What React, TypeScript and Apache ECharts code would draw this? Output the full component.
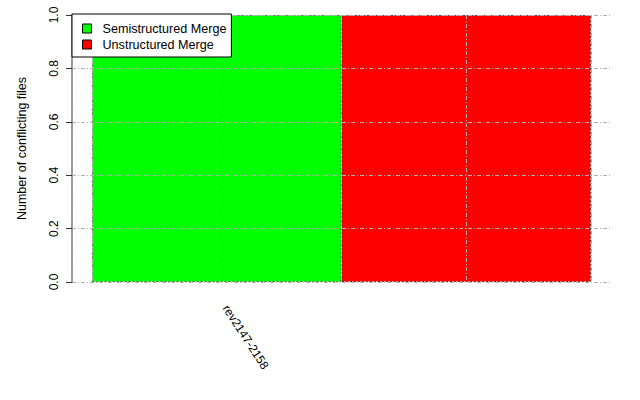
import React, { useEffect, useRef } from "react";
import * as echarts from "echarts";

const categories = ["rev2147-2158"];
const seriesNames = ["Semistructured Merge", "Unstructured Merge"];
const semistructuredValues = [1];
const unstructuredValues = [1];
const seriesColors = ["#00ff00", "#ff0000"];
const yAxisName = "Number of conflicting files";

const FONT = "'Liberation Sans', Arial, Helvetica, sans-serif";

export default function App() {
  const ref = useRef<HTMLDivElement>(null);
  useEffect(() => {
    if (!ref.current) return;
    const chart = echarts.init(ref.current, undefined, { renderer: "svg" });
    const gridLine = { type: [4, 2, 1, 2], color: "#b0b0b0", width: 1 };
    chart.setOption({
      animation: false,
      backgroundColor: "#ffffff",
      textStyle: { fontFamily: FONT },
      legend: {
        data: seriesNames,
        orient: "vertical",
        left: 72,
        top: 14,
        padding: [8, 5, 6, 10],
        itemGap: 3,
        itemWidth: 9,
        itemHeight: 9,
        icon: "rect",
        backgroundColor: "#ffffff",
        borderColor: "#000000",
        borderWidth: 1,
        borderRadius: 0,
        z: 20,
        itemStyle: { borderColor: "#000000", borderWidth: 1 },
        textStyle: { fontSize: 12.6, color: "#000000", fontFamily: FONT, padding: [0, 0, 0, 6] },
      },
      grid: [
        { left: 72, right: 30, top: 15, bottom: 118 },
        { left: 92, right: 49, top: 15, bottom: 118 },
      ],
      xAxis: [
        {
          type: "category",
          gridIndex: 1,
          data: categories,
          boundaryGap: true,
          axisLine: { show: false },
          axisTick: { show: false },
          axisLabel: { show: false },
          splitLine: { show: false },
        },
        {
          type: "value",
          gridIndex: 1,
          min: 0,
          max: 4,
          interval: 1,
          z: 10,
          axisLine: { show: false },
          axisTick: { show: false },
          axisLabel: { show: false },
          splitLine: { show: true, lineStyle: gridLine },
        },
        {
          type: "value",
          gridIndex: 0,
          min: 0,
          max: 1,
          show: false,
        },
      ],
      yAxis: [
        {
          type: "value",
          gridIndex: 0,
          min: 0,
          max: 1,
          interval: 0.2,
          z: 10,
          name: yAxisName,
          nameLocation: "middle",
          nameGap: 44,
          nameRotate: 90,
          nameTextStyle: { fontSize: 12.5, color: "#000000", fontFamily: FONT },
          axisLine: { show: true, lineStyle: { color: "#9a9a9a", width: 2 } },
          axisTick: { show: true, length: 6, lineStyle: { color: "#333333" } },
          axisLabel: {
            rotate: 90,
            margin: 12,
            fontSize: 12,
            color: "#000000",
            fontFamily: FONT,
            formatter: (v: number) => v.toFixed(1),
          },
          splitLine: { show: true, lineStyle: gridLine },
        },
        {
          type: "value",
          gridIndex: 1,
          min: 0,
          max: 1,
          show: false,
        },
      ],
      series: [
        {
          name: seriesNames[0],
          type: "bar",
          xAxisIndex: 0,
          yAxisIndex: 1,
          data: semistructuredValues,
          barWidth: "50%",
          barGap: "0%",
          itemStyle: { color: seriesColors[0], borderColor: "rgba(0,0,0,0.55)", borderWidth: 1, borderType: [2, 2] },
          label: {
            show: true,
            formatter: "{b}",
            position: ["53.5%", "109%"],
            rotate: -57,
            align: "left",
            verticalAlign: "middle",
            fontSize: 12,
            color: "#000000",
            fontFamily: FONT,
          },
        },
        {
          name: seriesNames[1],
          type: "bar",
          xAxisIndex: 0,
          yAxisIndex: 1,
          data: unstructuredValues,
          barWidth: "50%",
          barGap: "0%",
          itemStyle: { color: seriesColors[1], borderColor: "rgba(0,0,0,0.55)", borderWidth: 1, borderType: [2, 2] },
        },
      ],
    });
    return () => chart.dispose();
  }, []);
  return (
    <div
      ref={ref}
      style={{ position: "fixed", left: 0, top: 0, width: 640, height: 400 }}
    />
  );
}
